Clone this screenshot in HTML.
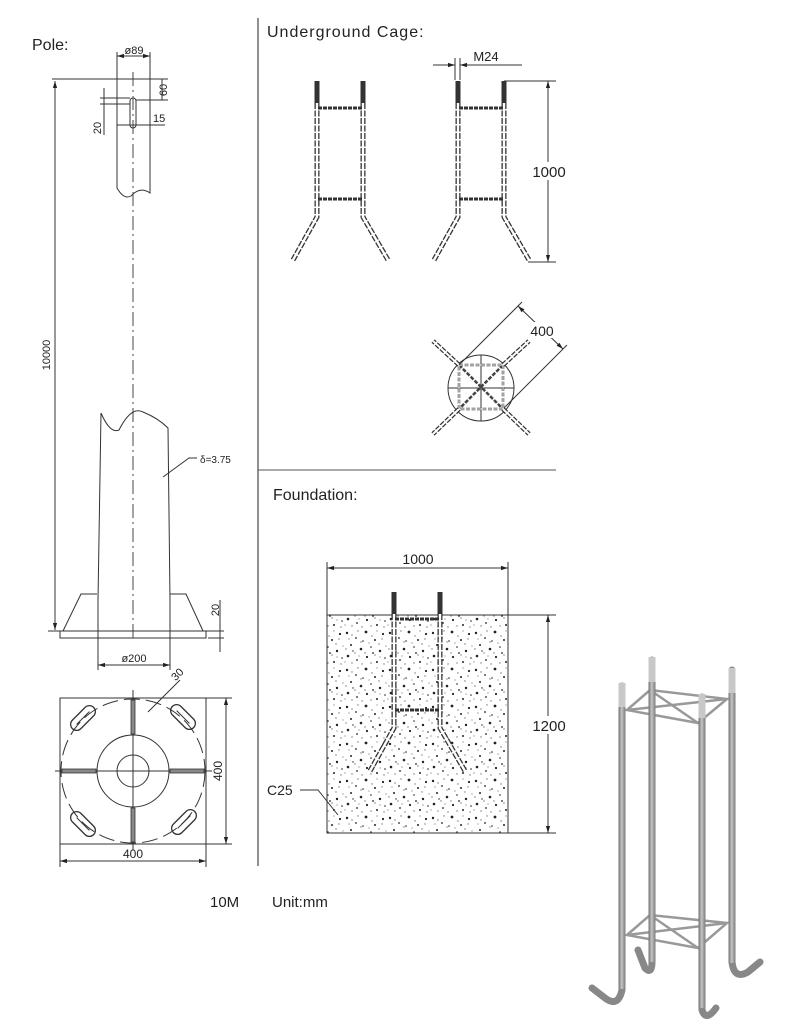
<!DOCTYPE html>
<html><head><meta charset="utf-8"><style>
html,body{margin:0;padding:0;background:#fff}
svg{display:block}
text{font-family:"Liberation Sans",sans-serif;fill:#222}
</style></head><body>
<svg width="800" height="1020" viewBox="0 0 800 1020" xmlns="http://www.w3.org/2000/svg">
<defs>
<marker id="ar" viewBox="0 0 10 10" refX="10" refY="5" markerWidth="7" markerHeight="7" orient="auto-start-reverse"><path d="M0,2 L10,5 L0,8 z" fill="#222"/></marker>
<pattern id="conc" width="43" height="37" patternUnits="userSpaceOnUse">
<rect width="43" height="37" fill="#fff"/>
<g fill="#222">
<circle cx="3" cy="4" r="1.2"/><circle cx="12" cy="9" r="0.9"/><circle cx="22" cy="3" r="1.4"/><circle cx="31" cy="11" r="1"/><circle cx="39" cy="5" r="1.1"/>
<circle cx="7" cy="16" r="1"/><circle cx="17" cy="20" r="1.3"/><circle cx="27" cy="18" r="0.8"/><circle cx="36" cy="22" r="1.2"/>
<circle cx="4" cy="27" r="1.3"/><circle cx="13" cy="31" r="0.9"/><circle cx="23" cy="28" r="1.1"/><circle cx="33" cy="33" r="1"/><circle cx="41" cy="29" r="0.8"/>
<circle cx="19" cy="12" r="0.8"/><circle cx="29" cy="24" r="0.9"/><circle cx="9" cy="22" r="0.7"/>
</g>
<g fill="#777">
<circle cx="8" cy="6" r="0.7"/><circle cx="17" cy="13" r="0.7"/><circle cx="28" cy="7" r="0.7"/><circle cx="35" cy="15" r="0.7"/><circle cx="2" cy="20" r="0.7"/>
<circle cx="11" cy="24" r="0.7"/><circle cx="21" cy="24" r="0.7"/><circle cx="31" cy="26" r="0.7"/><circle cx="40" cy="35" r="0.7"/><circle cx="8" cy="34" r="0.7"/>
<circle cx="18" cy="35" r="0.7"/><circle cx="27" cy="34" r="0.7"/><circle cx="38" cy="10" r="0.7"/><circle cx="14" cy="2" r="0.7"/>
<circle cx="5" cy="10" r="0.6"/><circle cx="25" cy="14" r="0.6"/><circle cx="42" cy="17" r="0.6"/><circle cx="15" cy="27" r="0.6"/><circle cx="36" cy="28" r="0.6"/><circle cx="33" cy="2" r="0.6"/><circle cx="1" cy="33" r="0.6"/>
</g>
</pattern>
<linearGradient id="bar" x1="0" x2="1" y1="0" y2="0"><stop offset="0" stop-color="#6f6f6f"/><stop offset="0.45" stop-color="#c4c4c4"/><stop offset="1" stop-color="#7a7a7a"/></linearGradient>
<g id="cage">
<g fill="none" stroke="#333" stroke-width="5" stroke-dasharray="6,1.5">
<path d="M317,103 L317,217 L293,260"/><path d="M363,103 L363,217 L388,260"/>
</g>
<g fill="none" stroke="#fff" stroke-width="2.4">
<path d="M317,103 L317,217 L293,260"/><path d="M363,103 L363,217 L388,260"/>
</g>
<rect x="314.5" y="81" width="5" height="22" fill="#333"/>
<rect x="360.5" y="81" width="5" height="22" fill="#333"/>
<line x1="318" y1="108" x2="362" y2="108" stroke="#333" stroke-width="3" stroke-dasharray="4,1"/>
<line x1="318" y1="199" x2="362" y2="199" stroke="#333" stroke-width="3" stroke-dasharray="4,1"/>
</g>
</defs>

<g stroke="#333" fill="none" stroke-width="1">
<line x1="258" y1="18" x2="258" y2="866" stroke-width="1.3" stroke="#555"/>
<line x1="258" y1="470" x2="556" y2="470" stroke="#555"/>

<line x1="52" y1="79" x2="168" y2="79"/>
<line x1="117" y1="52" x2="117" y2="79"/><line x1="150" y1="52" x2="150" y2="79"/>
<line x1="117" y1="56" x2="150" y2="56" marker-start="url(#ar)" marker-end="url(#ar)"/>
<path d="M117,79 L117,188 Q124,200 131,196 Q140,186 150,193 L150,79"/>
<rect x="130" y="98" width="6" height="30" rx="3"/>
<line x1="133" y1="72" x2="133" y2="640" stroke-dasharray="14,4,2,4" stroke="#444"/>
<line x1="136" y1="100" x2="168" y2="100"/><line x1="162" y1="79" x2="162" y2="100"/>
<line x1="100" y1="98" x2="130" y2="98"/><line x1="100" y1="104" x2="130" y2="104"/><line x1="104" y1="88" x2="104" y2="135"/>
<line x1="117" y1="125" x2="165" y2="125"/>
<line x1="55" y1="81" x2="55" y2="630" marker-start="url(#ar)" marker-end="url(#ar)"/>
<path d="M101,413 Q110,434 119,430 Q131,406 143,412 Q158,418 168,428 L170,600"/>
<line x1="101" y1="413" x2="98" y2="600"/>
<line x1="98" y1="600" x2="98" y2="670"/><line x1="170" y1="600" x2="170" y2="670"/>
<path d="M163,477 L189,458 L197,458"/>
<path d="M97,594 L81,594 L63,631"/><path d="M170,594 L186,594 L203,631"/>
<rect x="60" y="631" width="146" height="7"/>
<line x1="48" y1="631" x2="224" y2="631"/><line x1="208" y1="638" x2="224" y2="638"/>
<line x1="220" y1="600" x2="220" y2="652"/>
<line x1="98" y1="665" x2="170" y2="665" marker-start="url(#ar)" marker-end="url(#ar)"/>
<rect x="60" y="698" width="146" height="146"/>
<circle cx="133" cy="771" r="72" stroke-dasharray="16,6"/>
<circle cx="133" cy="771" r="36"/><circle cx="133" cy="771" r="16"/>
<line x1="133" y1="690" x2="133" y2="850"/><line x1="55" y1="771" x2="212" y2="771"/>
<g fill="#888" stroke="#333" stroke-width="0.8">
<rect x="131" y="700" width="4" height="34"/><rect x="131" y="808" width="4" height="34"/>
<rect x="62" y="769" width="34" height="4"/><rect x="170" y="769" width="34" height="4"/>
</g>
<g stroke-width="1.3">
<rect x="-15" y="-6" width="30" height="12" rx="6" transform="translate(183,717) rotate(45)"/>
<rect x="-15" y="-6" width="30" height="12" rx="6" transform="translate(83,718) rotate(-45)"/>
<rect x="-15" y="-6" width="30" height="12" rx="6" transform="translate(83,824) rotate(45)"/>
<rect x="-15" y="-6" width="30" height="12" rx="6" transform="translate(184,822) rotate(-45)"/>
</g>
<g stroke-width="1"><line x1="-9" y1="0" x2="9" y2="0" transform="translate(183,717) rotate(45)"/><line x1="-9" y1="0" x2="9" y2="0" transform="translate(83,718) rotate(-45)"/><line x1="-9" y1="0" x2="9" y2="0" transform="translate(83,824) rotate(45)"/><line x1="-9" y1="0" x2="9" y2="0" transform="translate(184,822) rotate(-45)"/></g>
<line x1="148" y1="712" x2="180" y2="680"/>
<line x1="206" y1="698" x2="232" y2="698"/><line x1="206" y1="844" x2="232" y2="844"/>
<line x1="226" y1="698" x2="226" y2="844" marker-start="url(#ar)" marker-end="url(#ar)"/>
<line x1="60" y1="844" x2="60" y2="867"/><line x1="206" y1="844" x2="206" y2="867"/>
<line x1="60" y1="861" x2="206" y2="861" marker-start="url(#ar)" marker-end="url(#ar)"/>

<line x1="455" y1="58" x2="455" y2="80"/><line x1="460" y1="58" x2="460" y2="80"/>
<line x1="433" y1="65" x2="455" y2="65" marker-end="url(#ar)"/>
<line x1="522" y1="65" x2="460" y2="65" marker-end="url(#ar)"/>
<line x1="504" y1="81" x2="556" y2="81"/><line x1="528" y1="262" x2="556" y2="262"/>
<line x1="548" y1="81" x2="548" y2="262" marker-start="url(#ar)" marker-end="url(#ar)"/>

<circle cx="481" cy="388" r="33"/>
<line x1="481" y1="355" x2="481" y2="421"/><line x1="448" y1="388" x2="514" y2="388"/>
<g stroke="#333" stroke-width="4.5" stroke-dasharray="5,1.5"><line x1="459" y1="365" x2="433" y2="341"/><line x1="503" y1="365" x2="529" y2="341"/><line x1="459" y1="409" x2="433" y2="434"/><line x1="503" y1="409" x2="529" y2="434"/></g>
<g stroke="#fff" stroke-width="2"><line x1="459" y1="365" x2="433" y2="341"/><line x1="503" y1="365" x2="529" y2="341"/><line x1="459" y1="409" x2="433" y2="434"/><line x1="503" y1="409" x2="529" y2="434"/></g>
<g stroke="#444" stroke-width="2.5" stroke-dasharray="4,1.5"><rect x="459" y="365" width="44" height="44"/><line x1="459" y1="365" x2="503" y2="409"/><line x1="503" y1="365" x2="459" y2="409"/></g>
<g stroke="#fff" stroke-width="1"><rect x="459" y="365" width="44" height="44"/></g>
<line x1="459" y1="365" x2="522" y2="302"/><line x1="504" y1="408" x2="567" y2="345"/>
<line x1="518" y1="306" x2="563" y2="349" marker-start="url(#ar)" marker-end="url(#ar)"/>

<rect x="327" y="615" width="181" height="218" fill="url(#conc)"/>
<line x1="327" y1="615" x2="556" y2="615"/><line x1="508" y1="833" x2="556" y2="833"/>
<line x1="327" y1="562" x2="327" y2="615"/><line x1="508" y1="562" x2="508" y2="615"/>
<line x1="327" y1="568" x2="508" y2="568" marker-start="url(#ar)" marker-end="url(#ar)"/>
<line x1="548" y1="615" x2="548" y2="833" marker-start="url(#ar)" marker-end="url(#ar)"/>
<path d="M300,790 L318,790 L338,815"/>
</g>
<use href="#cage"/>
<use href="#cage" transform="translate(141,0)"/>
<use href="#cage" transform="translate(77,511)"/>

<g fill="none" stroke="#999" stroke-width="2.5">
<path d="M627,710 L650,690 L727,699 L698,723 Z"/><path d="M627,710 L727,699"/><path d="M650,690 L698,723"/>
<path d="M627,935 L650,915 L727,923 L698,948 Z"/><path d="M627,935 L727,923"/><path d="M650,915 L698,948"/>
</g>
<g fill="none" stroke="#888" stroke-width="7" stroke-linecap="round">
<path d="M652,660 L652,962 Q652,975 645,968 L638,950"/>
<path d="M732,670 L732,962 Q734,980 748,972 L760,962"/>
<path d="M622,686 L622,990 Q618,1008 605,998 L592,988"/>
<path d="M702,697 L702,1010 Q706,1022 716,1008"/>
</g>
<g fill="url(#bar)">
<rect x="648.5" y="657" width="7" height="305"/>
<rect x="728.5" y="668" width="7" height="295"/>
<rect x="618.5" y="683" width="7" height="306"/>
<rect x="698.5" y="694" width="7" height="314"/>
</g>
<g fill="#c8c8c8"><rect x="648.5" y="657" width="7" height="25"/><rect x="728.5" y="668" width="7" height="25"/><rect x="618.5" y="683" width="7" height="24"/><rect x="698.5" y="694" width="7" height="24"/></g>

<text x="32" y="50" font-size="16">Pole:</text>
<text x="267" y="37" font-size="16" letter-spacing="1">Underground  Cage:</text>
<text x="273" y="500" font-size="16">Foundation:</text>
<text x="134" y="54" font-size="11" text-anchor="middle">ø89</text>
<text x="167" y="90" font-size="11" transform="rotate(-90 167 90)" text-anchor="middle">60</text>
<text x="101" y="128" font-size="11" transform="rotate(-90 101 128)" text-anchor="middle">20</text>
<text x="153" y="122" font-size="11">15</text>
<text x="50" y="355" font-size="11" transform="rotate(-90 50 355)" text-anchor="middle">10000</text>
<text x="200" y="463" font-size="10">δ=3.75</text>
<text x="219" y="610" font-size="11" transform="rotate(-90 219 610)" text-anchor="middle">20</text>
<text x="134" y="662" font-size="11" text-anchor="middle">ø200</text>
<text x="180" y="677" font-size="11" transform="rotate(-45 180 677)" text-anchor="middle">30</text>
<text x="222" y="771" font-size="12" transform="rotate(-90 222 771)" text-anchor="middle">400</text>
<text x="133" y="858" font-size="12" text-anchor="middle">400</text>
<text x="210" y="907" font-size="15">10M</text>
<text x="272" y="907" font-size="15">Unit:mm</text>
<text x="486" y="61" font-size="13" text-anchor="middle">M24</text>
<rect x="528" y="162" width="42" height="18" fill="#fff"/>
<text x="549" y="177" font-size="15" text-anchor="middle">1000</text>
<rect x="528" y="322" width="30" height="16" fill="#fff"/>
<text x="542" y="336" font-size="14" text-anchor="middle">400</text>
<text x="418" y="564" font-size="14" text-anchor="middle">1000</text>
<rect x="528" y="716" width="42" height="18" fill="#fff"/>
<text x="549" y="731" font-size="15" text-anchor="middle">1200</text>
<text x="267" y="795" font-size="14">C25</text>
</svg>
</body></html>
